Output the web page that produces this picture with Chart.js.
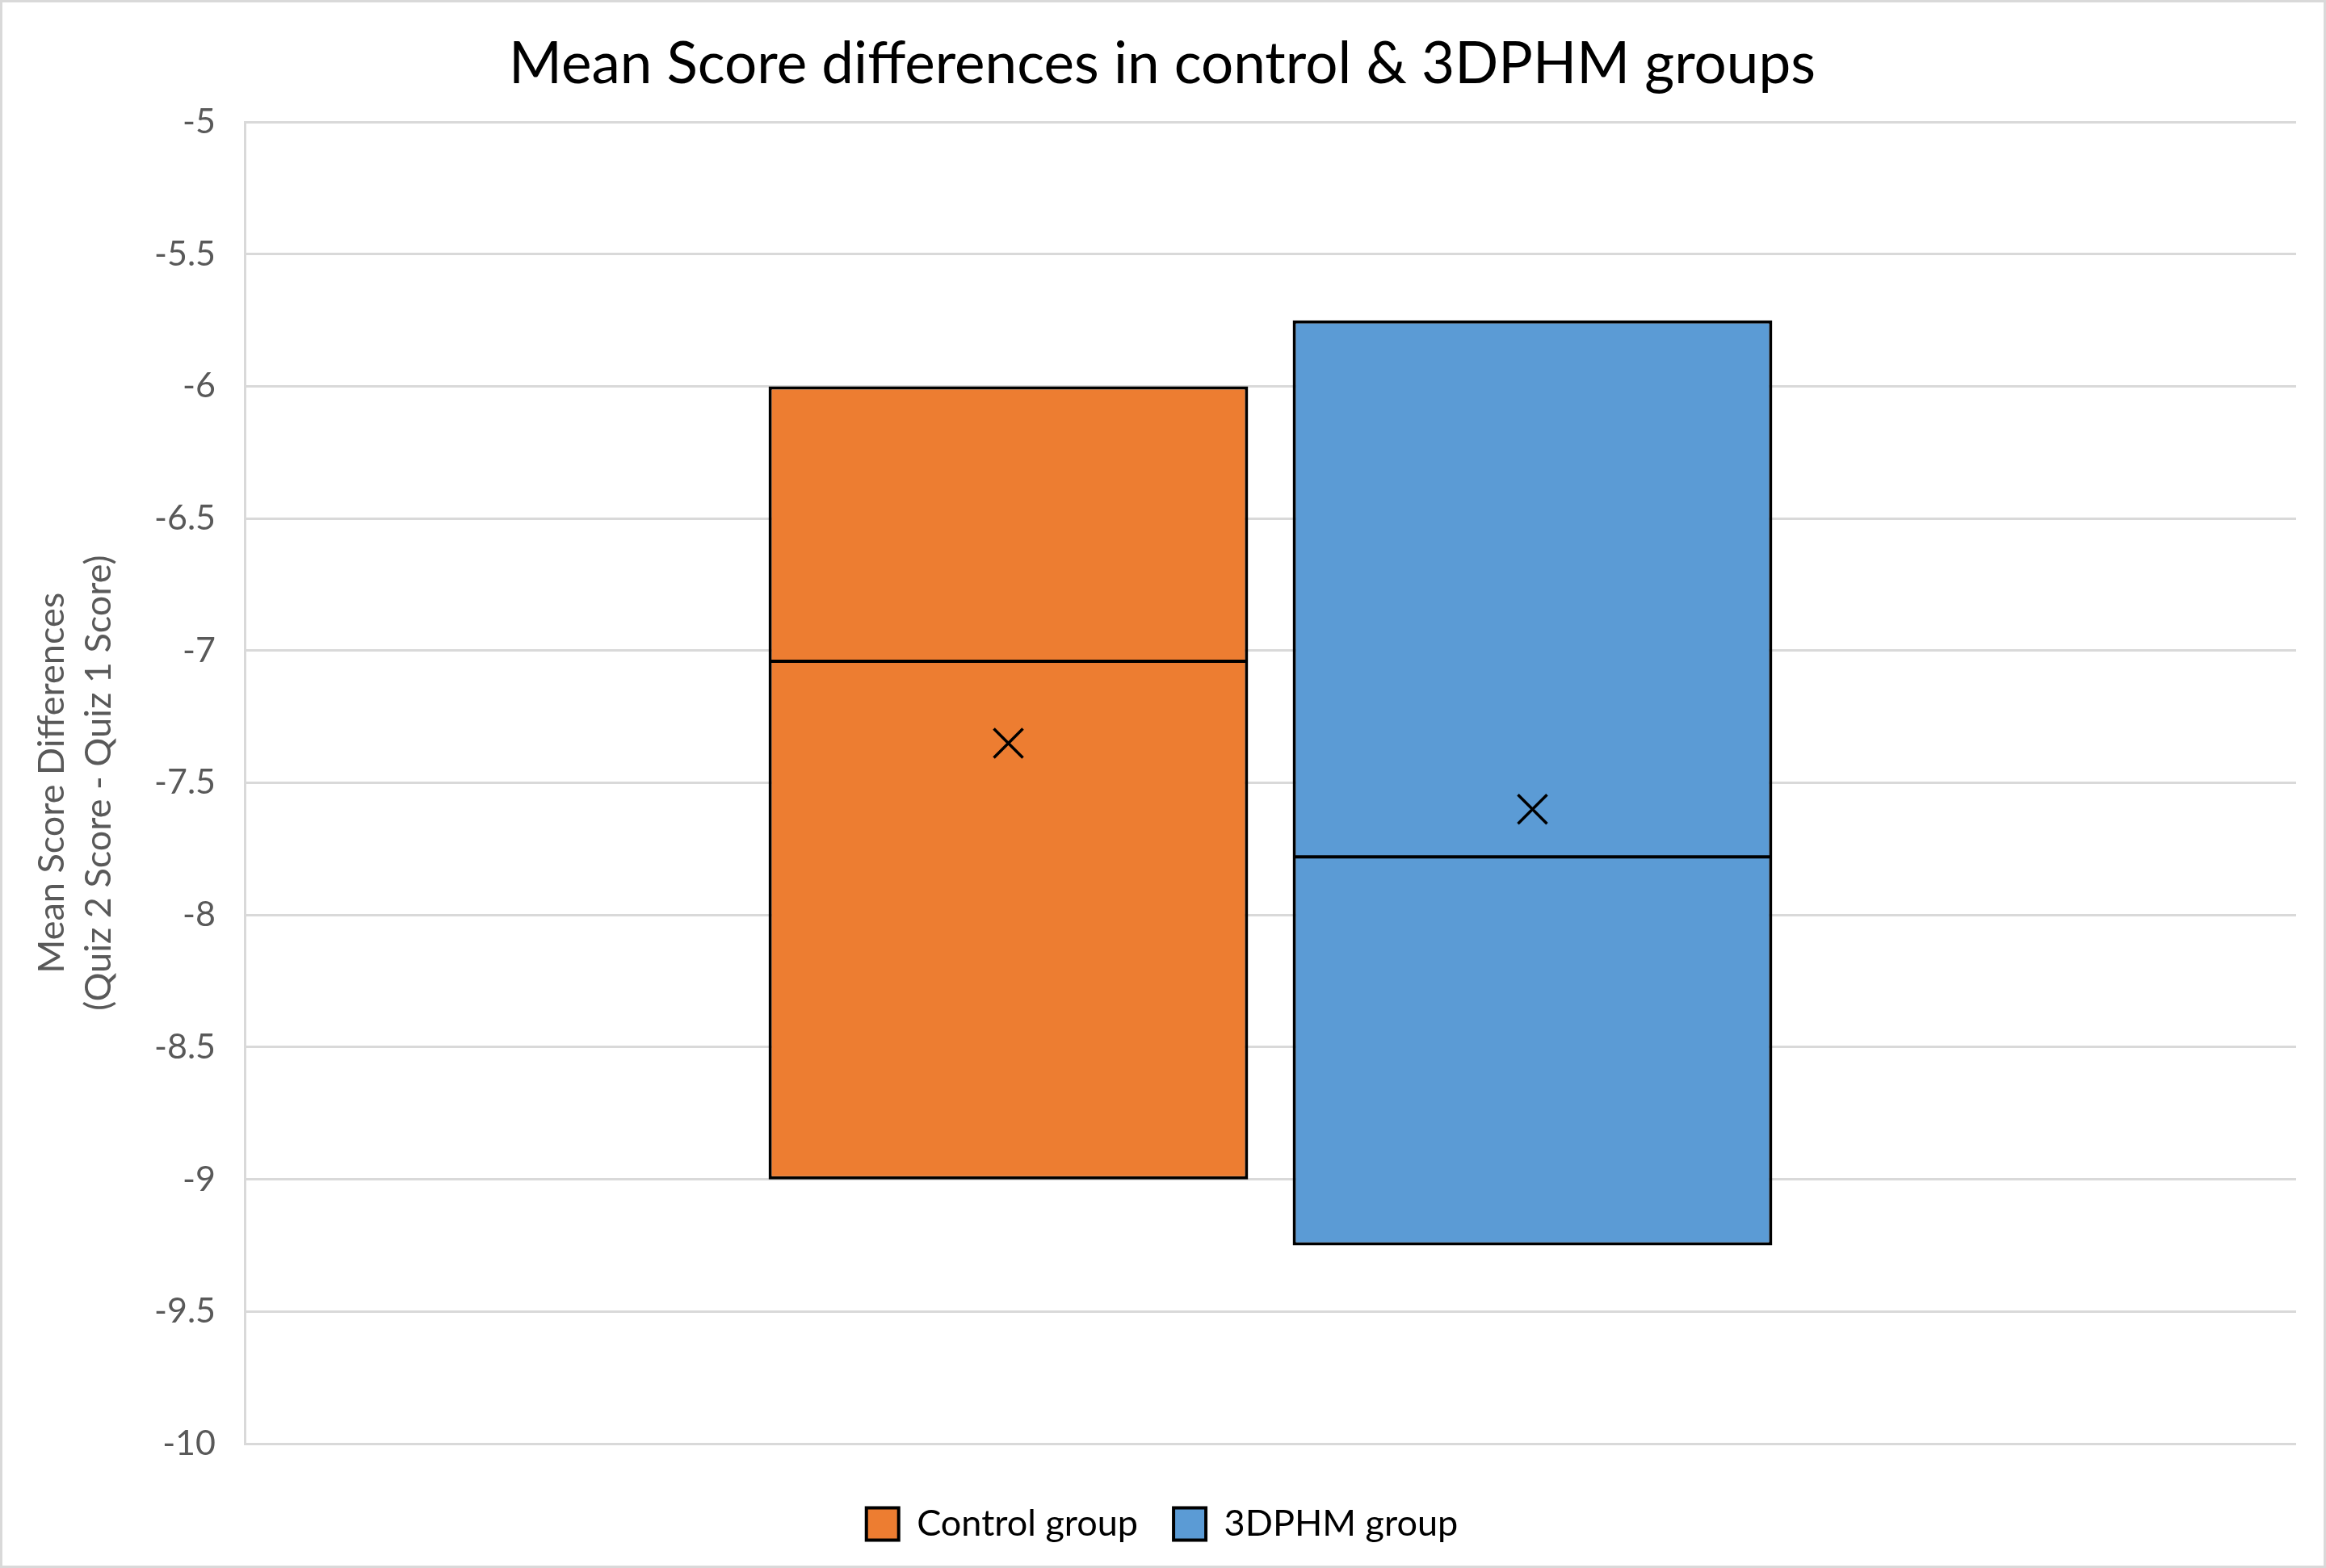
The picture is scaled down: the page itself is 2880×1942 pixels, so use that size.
<!DOCTYPE html>
<html>
<head>
<meta charset="utf-8">
<script src="https://cdn.jsdelivr.net/npm/chart.js@4.4.1/dist/chart.umd.min.js"></script>
<style>
  html, body { margin: 0; padding: 0; background: #fff; }
  #wrap { width: 2880px; height: 1942px; }
</style>
</head>
<body>
<div id="wrap"><canvas id="chart" width="2880" height="1942"></canvas></div>
<script>
  "use strict";

  // Box values (one entry per group).
  var categories = ['Control group', '3DPHM group'];
  var q1Values = [-9, -9.25];
  var q3Values = [-6, -5.75];
  var medianValues = [-7.04, -7.78];
  var meanValues = [-7.35, -7.6];
  var yTicks = [-5, -5.5, -6, -6.5, -7, -7.5, -8, -8.5, -9, -9.5, -10];
  var colors = ['#ED7D31', '#5B9BD5'];

  // Frame around the whole chart, white background.
  var framePlugin = {
    id: 'frame',
    beforeDraw: function (chart) {
      var c = chart.ctx;
      c.save();
      c.fillStyle = '#fff';
      c.fillRect(0, 0, chart.width, chart.height);
      c.strokeStyle = '#d9d9d9';
      c.lineWidth = 3;
      c.strokeRect(1.5, 1.5, chart.width - 3, chart.height - 3);
      c.restore();
    }
  };

  // Median line and mean marker, placed with the bar elements and y scale.
  var boxPlugin = {
    id: 'boxExtras',
    afterDatasetsDraw: function (chart) {
      var c = chart.ctx;
      var y = chart.scales.y;
      chart.data.datasets.forEach(function (ds, i) {
        var bar = chart.getDatasetMeta(i).data[0];
        if (!bar) return;
        var half = bar.width / 2;
        var ym = y.getPixelForValue(medianValues[i]);
        c.save();
        c.strokeStyle = '#000';
        c.lineWidth = 4;
        c.beginPath();
        c.moveTo(bar.x - half + 2, ym);
        c.lineTo(bar.x + half - 2, ym);
        c.stroke();

        var yx = y.getPixelForValue(meanValues[i]);
        var s = 18;
        c.lineWidth = 3.5;
        c.beginPath();
        c.moveTo(bar.x - s, yx - s);
        c.lineTo(bar.x + s, yx + s);
        c.moveTo(bar.x + s, yx - s);
        c.lineTo(bar.x - s, yx + s);
        c.stroke();
        c.restore();
      });
    }
  };

  var ctx = document.getElementById('chart').getContext('2d');
  new Chart(ctx, {
    type: 'bar',
    data: {
      labels: [''],
      datasets: categories.map(function (name, i) {
        return {
          label: name,
          data: [[q1Values[i], q3Values[i]]],
          backgroundColor: colors[i],
          borderColor: '#000',
          borderWidth: 4,
          borderSkipped: false,
          categoryPercentage: 0.511,
          barPercentage: 0.915
        };
      })
    },
    options: {
      responsive: false,
      animation: false,
      devicePixelRatio: 1,
      layout: { padding: { left: 35, right: 37, top: 0, bottom: 22 } },
      plugins: {
        title: {
          display: true,
          text: 'Mean Score differences in control & 3DPHM groups',
          color: '#000',
          font: { family: 'Lato', size: 71, weight: 'normal', lineHeight: 1.2 },
          padding: { top: 38, bottom: 28 }
        },
        legend: {
          position: 'bottom',
          labels: {
            color: '#000',
            font: { family: 'Lato', size: 45 },
            boxWidth: 40,
            boxHeight: 40,
            padding: 44
          }
        },
        tooltip: { enabled: false }
      },
      scales: {
        x: {
          display: true,
          grid: { display: false },
          border: { display: false },
          ticks: { display: false },
          afterFit: function (scale) {
            scale.height = 33;
          }
        },
        y: {
          min: -10,
          max: -5,
          afterBuildTicks: function (scale) {
            scale.ticks = yTicks.map(function (v) { return { value: v }; });
          },
          afterFit: function (scale) {
            scale.width = 268;
          },
          grid: { color: '#d9d9d9', lineWidth: 3, drawTicks: false },
          border: { display: true, color: '#d9d9d9', width: 3 },
          ticks: {
            color: '#595959',
            font: { family: 'Lato', size: 43 },
            padding: 36,
            callback: function (v) { return String(v); }
          },
          title: {
            display: true,
            text: ['Mean Score Differences', '(Quiz 2 Score - Quiz 1 Score)'],
            color: '#595959',
            font: { family: 'Lato', size: 45, lineHeight: 1.3 },
            padding: { top: 0, bottom: 0 }
          }
        }
      }
    },
    plugins: [framePlugin, boxPlugin]
  });
</script>
</body>
</html>
